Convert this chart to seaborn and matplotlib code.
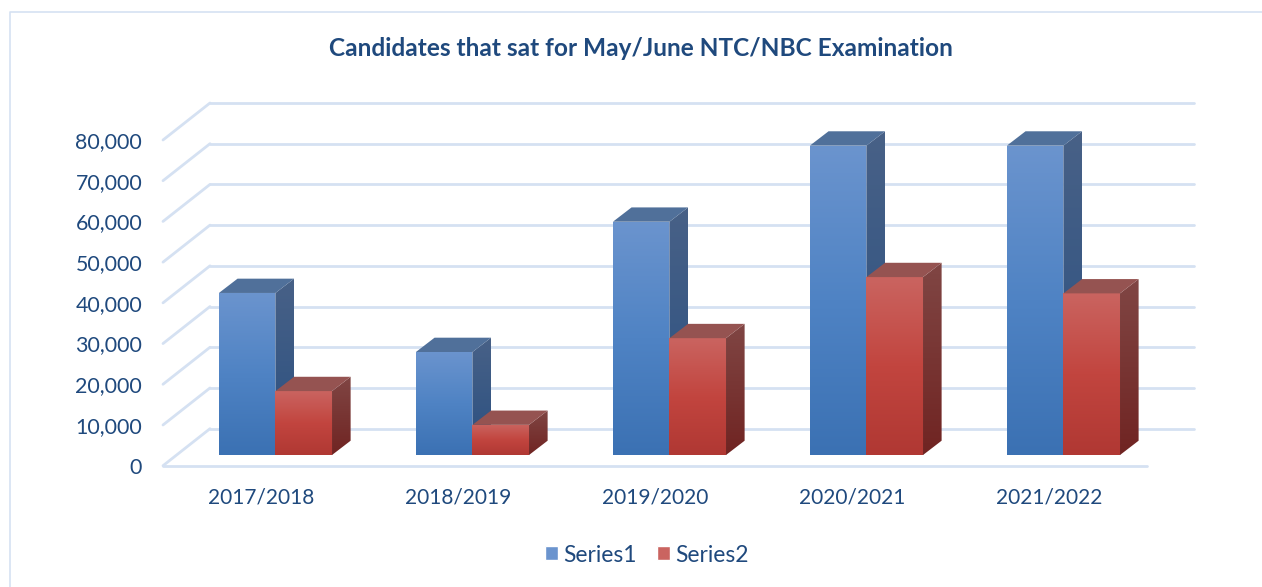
import numpy as np
import pandas as pd
import seaborn as sns
import matplotlib
matplotlib.use('Agg')
import matplotlib.pyplot as plt
from matplotlib.colors import LinearSegmentedColormap
from matplotlib.lines import Line2D
from matplotlib.patches import Patch, Polygon

# Values
years = ['2017/2018', '2018/2019', '2019/2020', '2020/2021', '2021/2022']
series1 = [39800, 25300, 57300, 76000, 76000]
series2 = [15700, 7400, 28700, 43700, 39700]
y_ticks = [0, 10000, 20000, 30000, 40000, 50000, 60000, 70000, 80000]

TEXT = '#1f497d'
GRID = '#d5e1f2'
W, H = 1262, 587

# top colour, bottom colour etc. for the faces of each series
front_cols = [['#6b94ce', '#4f83c4', '#3b71b3'], ['#ca6460', '#c2453f', '#b03833']]
side_cols = [['#486187', '#2a5081'], ['#804644', '#702422']]
top_cols = ['#50709a', '#955351']
legend_cols = [['#6b94ce', '#3b71b3'], ['#ca6460', '#b23a36']]

sns.set_theme(style='white')
plt.rcParams['font.family'] = ['Lato', 'DejaVu Sans']

df = pd.DataFrame({
    'year': years * 2,
    'value': series1 + series2,
    'series': ['Series1'] * 5 + ['Series2'] * 5,
})


def px_axes(fig, left, right, bottom, top):
    return fig.add_axes([left / W, 1 - bottom / H, (right - left) / W, (bottom - top) / H])


def shade(ax, verts, colors, y0, y1, z):
    # polygon filled with a vertical gradient
    poly = Polygon(verts, closed=True, facecolor='none', edgecolor='none', zorder=z)
    ax.add_patch(poly)
    cmap = LinearSegmentedColormap.from_list('g', colors)
    xs = [v[0] for v in verts]
    grad = np.linspace(0, 1, 256).reshape(-1, 1)
    im = ax.imshow(grad, cmap=cmap, aspect='auto', zorder=z,
                   extent=(min(xs), max(xs), y0, y1), interpolation='bilinear')
    im.set_clip_path(poly)


fig = plt.figure(figsize=(W / 100, H / 100), dpi=100)

# outer frame, only left and top are inside the picture
fig.add_artist(Line2D([9.5 / W, 9.5 / W, 1], [0, 1 - 12 / H, 1 - 12 / H], color=GRID, lw=1.2))

# walls and floor, tick labels live here
wall = px_axes(fig, 163, 1147, 465.7, 140)
wall.set_xlim(-0.571, 4.424)
wall.set_ylim(0, 80000)
depth_x = 47 / 197
depth_y = 37 / 40.7 * 10000
x0, x1 = wall.get_xlim()
for v in y_ticks:
    wall.plot([x0, x0 + depth_x], [v, v + depth_y], color=GRID, lw=2, clip_on=False, solid_capstyle='round')
    wall.plot([x0 + depth_x, x1 + depth_x], [v + depth_y, v + depth_y], color=GRID, lw=2, clip_on=False)
wall.plot([x0, x1], [0, 0], color=GRID, lw=2, clip_on=False)
wall.set_yticks(y_ticks)
wall.set_yticklabels([f'{v:,}' for v in y_ticks], fontsize=15.4, color=TEXT)
# category labels sit under the floor front, left of the bar groups
wall.set_xticks([i - 14 / 197 for i in range(5)])
wall.set_xticklabels(years, fontsize=15, color=TEXT)
wall.tick_params(axis='y', length=0, pad=15)
wall.tick_params(axis='x', length=0, pad=16)
sns.despine(ax=wall, left=True, bottom=True)
wall.patch.set_alpha(0)

# bars, sitting a little behind the front edge of the floor
ax = px_axes(fig, 163, 1147, 455, 129.3)
sns.barplot(data=df, x='year', y='value', hue='series', order=years, width=0.574,
            palette=['#4f83c4', '#c0443f'], legend=False, ax=ax, saturation=1)
xlim = wall.get_xlim()
ax.set_xlim(xlim)
ax.set_ylim(0, 80000)
ax.axis('off')

off_x = 18.6 / 197
off_y = 14.3 / 40.7 * 10000
for s, container in enumerate(ax.containers):
    z = 3 + s
    for bar in container:
        l = bar.get_x()
        r = l + bar.get_width()
        h = bar.get_height()
        bar.set_zorder(z)
        bar.set_edgecolor('#c9d6ea')
        bar.set_linewidth(0.5)
        shade(ax, [(l, 0), (r, 0), (r, h), (l, h)], front_cols[s], 0, h, z + 0.1)
        shade(ax, [(r, 0), (r + off_x, off_y), (r + off_x, h + off_y), (r, h)], side_cols[s], 0, h + off_y, z + 0.1)
        ax.add_patch(Polygon([(l, h), (r, h), (r + off_x, h + off_y), (l + off_x, h + off_y)],
                             closed=True, facecolor=top_cols[s], edgecolor='none', zorder=z + 0.1))
ax.set_xlim(xlim)
ax.set_ylim(0, 80000)

fig.text(641 / W, 1 - 49 / H, 'Candidates that sat for May/June NTC/NBC Examination',
         ha='center', va='center', fontsize=17.6, fontweight='bold', color=TEXT)

# legend with gradient swatches painted over the handles
handles = [Patch(facecolor=c[0], label=n) for c, n in zip(legend_cols, ['Series1', 'Series2'])]
leg = fig.legend(handles=handles, loc='center', bbox_to_anchor=(647 / W, 1 - 555 / H), ncol=2, frameon=False,
                 fontsize=16.4, labelcolor=TEXT, handlelength=0.57, handleheight=0.57,
                 handletextpad=0.22, columnspacing=0.92)
fig.canvas.draw()
for patch, cols in zip(leg.get_patches(), legend_cols):
    box = patch.get_window_extent()
    sw = px_axes(fig, box.x0, box.x1, H - box.y0, H - box.y1)
    sw.imshow(np.linspace(0, 1, 64).reshape(-1, 1), cmap=LinearSegmentedColormap.from_list('l', cols), aspect='auto')
    sw.axis('off')

fig.savefig('out.png', dpi=100, facecolor='white')
